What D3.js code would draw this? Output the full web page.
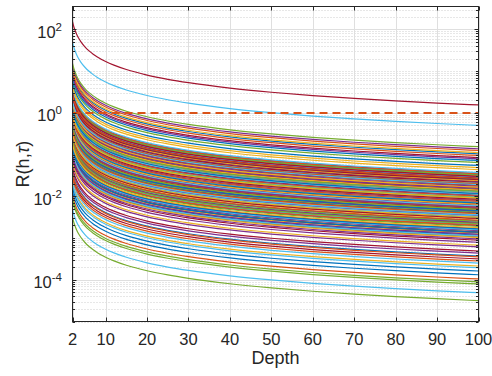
<!DOCTYPE html>
<html>
<head>
<meta charset="utf-8">
<script src="https://cdn.jsdelivr.net/npm/d3@7"></script>
<style>
  html, body { margin: 0; padding: 0; background: #ffffff; }
  svg { display: block; font-family: "Liberation Sans", Arial, Helvetica, sans-serif; }
</style>
</head>
<body>
<svg id="chart" width="492" height="376"></svg>
<script>
// Depth samples and the decay of R(h,τ) along depth, relative to its value at Depth = 100
const depthGrid = [2, 2.25, 2.5, 3, 3.5, 4, 5, 6, 7, 8, 10, 12, 15, 20, 25, 30, 40, 50, 60, 70, 80, 90, 100];
const decay     = [99, 79.2, 66, 49.5, 39.6, 33, 24.75, 19.8, 16.5, 14.14, 11, 9, 7.07, 5.21, 4.125, 3.414, 2.538, 2.02, 1.678, 1.435, 1.253, 1.112, 1];

// log10 of R(h,τ) at Depth = 100, one entry per τ, in plotting order
const logR100 = [
  -2.05, -1.66, -2.30, -1.87, -2.49, -1.78, -2.18,
  -3.88, -2.45, -1.50, -3.36, -1.69, -2.59, -1.45,
  -1.48, -3.98, -3.67, -2.58, -4.50, -3.60, -3.50,
  -2.63, -1.90, -2.66, -1.53, -2.14, -2.13, -2.77,
  -0.98, -2.81, -1.96, -2.21, -2.85, -1.55, -1.97,
  -2.27, -0.90, -0.95, -0.86, -1.19, -2.90, -2.40,
  -1.83, -2.24, -2.88, -2.82, -1.81, -4.31, -1.07,
  -3.43, -1.46, -1.74, -1.99, -2.60, -2.36, -2.64,
  -2.93, -3.55, -2.42, -3.21, -4.05, -1.89, -1.63,
  -1.60, -2.57, -1.31, -2.46, -1.49, -1.43, -3.31,
  -2.39, -2.00, -2.08, -1.64, -2.37, -2.67, -2.29,
  -1.14, -1.02, -3.17, -2.91, -2.97, -2.02, -1.84,
  -2.16, -2.96, -1.62, -1.10, -1.94, -3.71, -2.86,
  -3.79, -1.79, -2.99, -2.10, -4.10, -2.80, -1.52,
  -1.71, -2.33, -1.36, -3.10, -2.26, -1.67, -3.05,
  -2.51, -3.45, -2.19, -1.76, -1.59, -2.48, -2.07,
  -1.26, -2.12, -2.54, -2.70, -2.72, -2.23, -2.53,
  -2.78, -2.69, -1.85, -2.35, -2.03, -2.95, -1.73,
  -1.58, -2.27, -2.04, -2.63, -1.88, -2.44, -1.56,
  -2.34, -1.70, -2.50, -1.81, -2.65, -1.95, -1.66,
  -2.86, -2.41, -1.78, -2.26, -2.31, -1.72, -1.60,
  -1.93, -1.57, -2.75, -3.02, -0.81, -0.30, 0.19
];

const threshold = 1;                       // reference level R = 1
const xTicks = [2, 10, 20, 30, 40, 50, 60, 70, 80, 90, 100];
const yTickExp = [-4, -2, 0, 2];
const colorOrder = ["#0072BD", "#D95319", "#EDB120", "#7E2F8E", "#77AC30", "#4DBEEE", "#A2142F"];

const svg = d3.select("#chart");
const L = 72.5, R = 478.5, T = 6.5, B = 321.5;
const axisColor = "#262626";

const x = d3.scaleLinear().domain([2, 100]).range([L, R]);
const y = d3.scaleLog().domain([1e-5, Math.pow(10, 2.55)]).range([B, T]);

svg.append("defs").append("clipPath").attr("id", "plotClip")
  .append("rect").attr("x", L).attr("y", T).attr("width", R - L).attr("height", B - T);

// grid
const grid = svg.append("g");
// minor y grid (every 1..9 × decade that is not a labelled decade)
const yMinor = [];
for (let e = -5; e <= 2; e++) {
  for (let m = 1; m <= 9; m++) {
    const v = m * Math.pow(10, e);
    if (m === 1 && yTickExp.includes(e)) continue;
    if (v >= y.domain()[0] && v <= y.domain()[1]) yMinor.push(v);
  }
}
grid.selectAll("line.ymin").data(yMinor).join("line")
  .attr("x1", L).attr("x2", R)
  .attr("y1", d => Math.round(y(d)) + 0.5).attr("y2", d => Math.round(y(d)) + 0.5)
  .attr("stroke", "#cfcfcf").attr("stroke-width", 1).attr("stroke-dasharray", "1,2");
grid.selectAll("line.ymaj").data(yTickExp).join("line")
  .attr("x1", L).attr("x2", R)
  .attr("y1", d => Math.round(y(Math.pow(10, d))) + 0.5).attr("y2", d => Math.round(y(Math.pow(10, d))) + 0.5)
  .attr("stroke", "#dfdfdf").attr("stroke-width", 1);
grid.selectAll("line.xmaj").data(xTicks).join("line")
  .attr("x1", d => Math.round(x(d)) + 0.5).attr("x2", d => Math.round(x(d)) + 0.5)
  .attr("y1", T).attr("y2", B)
  .attr("stroke", "#dfdfdf").attr("stroke-width", 1);

// curves
const line = d3.line()
  .x(d => x(d[0]))
  .y(d => y(d[1]))
  .curve(d3.curveMonotoneX);

const curves = svg.append("g").attr("clip-path", "url(#plotClip)");
logR100.forEach((lv, i) => {
  const base = Math.pow(10, lv);
  const pts = depthGrid.map((h, j) => [h, base * decay[j]]);
  curves.append("path")
    .attr("d", line(pts))
    .attr("fill", "none")
    .attr("stroke", colorOrder[i % colorOrder.length])
    .attr("stroke-width", 1.2);
});

// threshold line
curves.append("path")
  .attr("d", line([[2, threshold], [100, threshold]]))
  .attr("fill", "none")
  .attr("stroke", "#D95319")
  .attr("stroke-width", 2)
  .attr("stroke-dasharray", "8,5");

// axes box
const ax = svg.append("g");
ax.append("rect").attr("x", L).attr("y", T).attr("width", R - L).attr("height", B - T)
  .attr("fill", "none").attr("stroke", axisColor).attr("stroke-width", 1);

// x ticks
xTicks.forEach(t => {
  const px = Math.round(x(t)) + 0.5;
  ax.append("line").attr("x1", px).attr("x2", px).attr("y1", B).attr("y2", B - 4).attr("stroke", axisColor);
  ax.append("line").attr("x1", px).attr("x2", px).attr("y1", T).attr("y2", T + 4).attr("stroke", axisColor);
  ax.append("text").attr("x", x(t)).attr("y", 344.5).attr("text-anchor", "middle")
    .attr("font-size", 16.5).attr("fill", axisColor).text(t);
});

// y ticks
yMinor.forEach(v => {
  const py = Math.round(y(v)) + 0.5;
  ax.append("line").attr("x1", L).attr("x2", L + 2.5).attr("y1", py).attr("y2", py).attr("stroke", axisColor);
  ax.append("line").attr("x1", R).attr("x2", R - 2.5).attr("y1", py).attr("y2", py).attr("stroke", axisColor);
});
yTickExp.forEach(e => {
  const py = Math.round(y(Math.pow(10, e))) + 0.5;
  ax.append("line").attr("x1", L).attr("x2", L + 4).attr("y1", py).attr("y2", py).attr("stroke", axisColor);
  ax.append("line").attr("x1", R).attr("x2", R - 4).attr("y1", py).attr("y2", py).attr("stroke", axisColor);
  const t = ax.append("text").attr("x", 62).attr("y", y(Math.pow(10, e)) + 8.5)
    .attr("text-anchor", "end").attr("fill", axisColor).attr("font-size", 16.5);
  t.append("tspan").text("10");
  t.append("tspan").attr("font-size", 11.5).attr("dy", -7).text(e < 0 ? "-" + Math.abs(e) : String(e));
});

// axis titles
svg.append("text").attr("x", (L + R) / 2).attr("y", 363.5).attr("text-anchor", "middle")
  .attr("font-size", 18).attr("fill", axisColor).text("Depth");

const yl = svg.append("text")
  .attr("transform", `translate(29,${(T + B) / 2}) rotate(-90)`)
  .attr("text-anchor", "middle").attr("font-size", 18).attr("fill", axisColor);
yl.append("tspan").text("R(h,");
yl.append("tspan").attr("font-style", "italic").text("τ");
yl.append("tspan").text(")");
</script>
</body>
</html>
